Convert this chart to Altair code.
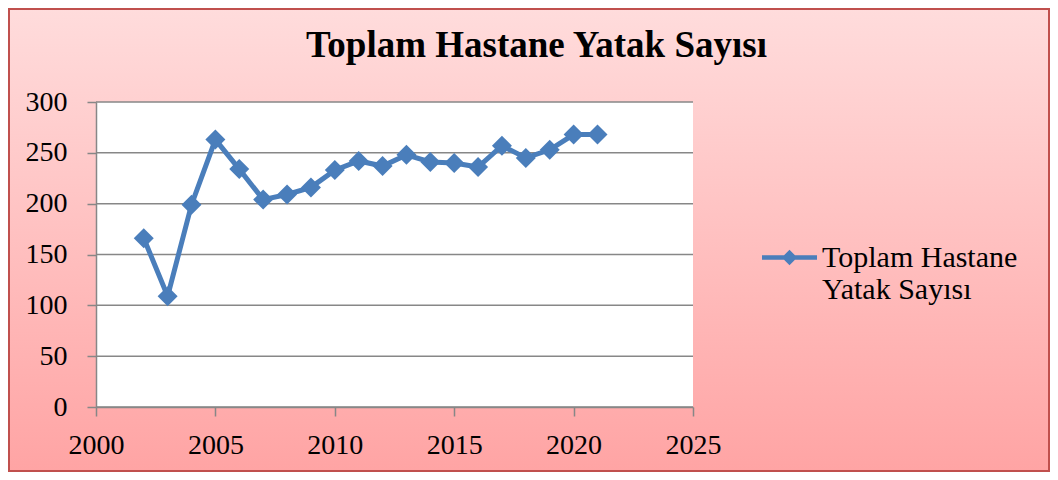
import altair as alt
import pandas as pd

years = [2002, 2003, 2004, 2005, 2006, 2007, 2008, 2009, 2010, 2011,
         2012, 2013, 2014, 2015, 2016, 2017, 2018, 2019, 2020, 2021]
values = [166, 109, 199, 263, 234, 204, 209, 216, 233, 242,
          237, 248, 241, 240, 236, 257, 245, 253, 268, 268]
series_name = "Toplam Hastane Yatak Sayısı"
title_text = "Toplam Hastane Yatak Sayısı"
x_ticks = [2000, 2005, 2010, 2015, 2020, 2025]
y_ticks = [0, 50, 100, 150, 200, 250, 300]

W, H = 597, 305
PAD = {"left": 88, "top": 94, "right": 357, "bottom": 65}
FONT = "Liberation Serif"
BLUE = "#4A7EBB"
GRID = "#878787"

df = pd.DataFrame({"yil": years, "deger": values, "seri": [series_name] * len(years)})
grid_df = pd.DataFrame({"g": y_ticks})
one = pd.DataFrame({"k": [0]})

xscale = alt.Scale(domain=[2000, 2025], nice=False, zero=False)
yscale = alt.Scale(domain=[0, 300], nice=False)

xaxis = alt.Axis(values=x_ticks, format="d", title=None, grid=False,
                 tickSize=9, tickColor=GRID, tickWidth=1.5,
                 domainColor=GRID, domainWidth=1.5,
                 labelFont=FONT, labelFontSize=28, labelColor="black",
                 labelPadding=15, labelFlush=False, labelOverlap=False,
                 zindex=1)
yaxis = alt.Axis(values=y_ticks, title=None, grid=False,
                 tickSize=9, tickColor=GRID, tickWidth=1.5,
                 domainColor=GRID, domainWidth=1.5,
                 labelFont=FONT, labelFontSize=28, labelColor="black",
                 labelPadding=20, labelFlush=False, labelOverlap=False,
                 zindex=1)

bg = alt.Chart(one).mark_rect(
    fill=alt.LinearGradient(
        gradient="linear",
        stops=[alt.GradientStop(color="#FFDCDC", offset=0),
               alt.GradientStop(color="#FFA4A4", offset=1)],
        x1=0, x2=0, y1=0, y2=1),
    stroke="#C0504D", strokeWidth=2,
).encode(
    x=alt.value(-PAD["left"] + 1), x2=alt.value(W + PAD["right"] - 1),
    y=alt.value(-PAD["top"] + 1), y2=alt.value(H + PAD["bottom"] - 1),
)

plot_bg = alt.Chart(one).mark_rect(fill="white").encode(
    x=alt.value(0), x2=alt.value(W), y=alt.value(0), y2=alt.value(H)
)

grid = alt.Chart(grid_df).mark_rule(color=GRID, strokeWidth=1.5).encode(
    y=alt.Y("g:Q", scale=yscale, axis=yaxis),
    x=alt.value(0), x2=alt.value(W),
)

line = alt.Chart(df).mark_line(color=BLUE, strokeWidth=5).encode(
    x=alt.X("yil:Q", scale=xscale, axis=xaxis),
    y=alt.Y("deger:Q", scale=yscale, axis=yaxis),
)

legend_path = ("M-1,-0.08 L1,-0.08 L1,0.08 L-1,0.08 Z "
               "M0,-0.28 L0.28,0 L0,0.28 L-0.28,0 Z")

points = alt.Chart(df).mark_point(shape="diamond", filled=True, size=400, opacity=1).encode(
    x=alt.X("yil:Q", scale=xscale, axis=xaxis),
    y=alt.Y("deger:Q", scale=yscale, axis=yaxis),
    color=alt.Color("seri:N", scale=alt.Scale(range=[BLUE]),
                    legend=alt.Legend(
                        title=None, orient="none", legendX=666, legendY=128,
                        symbolType=legend_path, symbolSize=3025,
                        symbolStrokeWidth=0, symbolOpacity=1,
                        labelFont=FONT, labelFontSize=30, labelColor="black",
                        labelExpr="['Toplam Hastane', 'Yatak Sayısı']",
                        labelLimit=400, labelOffset=5,
                        labelBaseline="middle",
                        padding=0, zindex=1)),
)

chart = alt.layer(bg, plot_bg, grid, line, points).properties(
    width=W, height=H,
    autosize=alt.AutoSizeParams(type="none"),
    padding=PAD,
    title=alt.TitleParams(title_text, font=FONT, fontSize=37, fontWeight="bold",
                          color="black", anchor="middle", dx=142, offset=-86,
                          baseline="alphabetic", zindex=1),
).configure_view(stroke=None)

chart.save("out.html", embed_options={"renderer": "svg", "actions": False})
